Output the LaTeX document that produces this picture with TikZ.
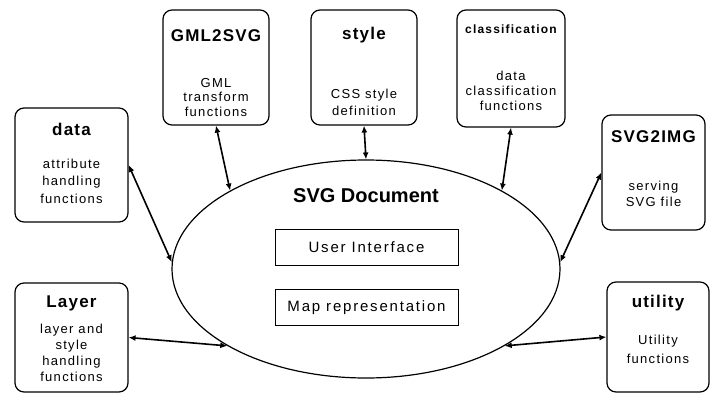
\documentclass[tikz,border=0pt]{standalone}
\usepackage{fontspec}
\setmainfont{Liberation Sans}
\usetikzlibrary{shapes.geometric,arrows.meta}
\tikzset{
  modbox/.style={draw, line width=1.2pt, rounded corners=9pt, inner sep=0pt},
  titletxt/.style={anchor=base, inner sep=0pt, font=\fontsize{17}{19}\selectfont\bfseries\addfontfeature{LetterSpace=7}},
  bodytxt/.style={anchor=base, inner sep=0pt, align=center, font=\fontsize{13}{#1}\selectfont\addfontfeature{LetterSpace=10}},
  bodytxt/.default=16,
  innerbox/.style={draw, line width=1pt, minimum width=183pt, minimum height=36pt, inner sep=0pt, font=\fontsize{15}{17}\selectfont\addfontfeature{LetterSpace=12}},
  link/.style={line width=1.6pt, {Latex[length=7pt,width=6pt]}-{Latex[length=7pt,width=6pt]}}
}
\begin{document}
\begin{tikzpicture}[x=1pt,y=-1pt]
\useasboundingbox (0,0) rectangle (710,394);
\begin{scope}
\clip (0,0) rectangle (710,394);
% central ellipse
\node[draw, ellipse, line width=1.2pt, minimum width=388pt, minimum height=218pt, inner sep=0pt] (doc) at (366,269) {};
\node[anchor=base, inner sep=0pt, font=\fontsize{20}{22}\selectfont\bfseries] (doctitle) at (366,202) {SVG Document};
\node[innerbox] (ui) at (366.5,247) {User Interface};
\node[innerbox] (map) at (366.5,307.5) {Map representation};

% boxes
\node[modbox, minimum width=113pt, minimum height=114pt] (data) at (71.5,165) {};
\node[titletxt] (datat) at (71.5,135) {data};
\node[bodytxt=17.5] (datab) at (71.5,203) {attribute\\handling\\functions};

\node[modbox, minimum width=106pt, minimum height=115pt] (gml) at (216,67.5) {};
\node[titletxt] (gmlt) at (216,41) {GML2SVG};
\node[bodytxt=14.5] (gmlb) at (216,116) {GML\\transform\\functions};

\node[modbox, minimum width=106pt, minimum height=115pt] (style) at (364,67.5) {};
\node[titletxt] (stylet) at (364,39) {style};
\node[bodytxt=17] (styleb) at (364,115) {CSS style\\definition};

\node[modbox, minimum width=108pt, minimum height=117pt] (class) at (511,68.5) {};
\node[anchor=base, inner sep=0pt, font=\fontsize{12}{14}\selectfont\bfseries\addfontfeature{LetterSpace=10}] (classt) at (511,33) {classification};
\node[bodytxt=15] (classb) at (511,110) {data\\classification\\functions};

\node[modbox, minimum width=103pt, minimum height=115pt] (svgimg) at (653.5,172.5) {};
\node[titletxt] (svgimgt) at (653.5,142) {SVG2IMG};
\node[bodytxt=16] (svgimgb) at (653.5,206) {serving\\SVG file};

\node[modbox, minimum width=113pt, minimum height=109pt] (layer) at (71.5,337.5) {};
\node[titletxt] (layert) at (71.5,307) {Layer};
\node[bodytxt=16] (layerb) at (71.5,381) {layer and\\style\\handling\\functions};

\node[modbox, minimum width=102pt, minimum height=110pt] (utility) at (658,337) {};
\node[titletxt] (utilityt) at (658,307) {utility};
\node[bodytxt=19] (utilityb) at (658,363) {Utility\\functions};
\end{scope}

% connectors
\draw[link] (gml.south) -- (doc.150);
\draw[link] (style.south) -- (doc.90);
\draw[link] (class.south) -- (doc.30);
\draw[link] (data.east) -- (doc.178);
\draw[link] (svgimg.west) -- (doc.2);
\draw[link] (layer.east) -- (doc.209);
\draw[link] (utility.west) -- (doc.331);
\end{tikzpicture}
\end{document}
